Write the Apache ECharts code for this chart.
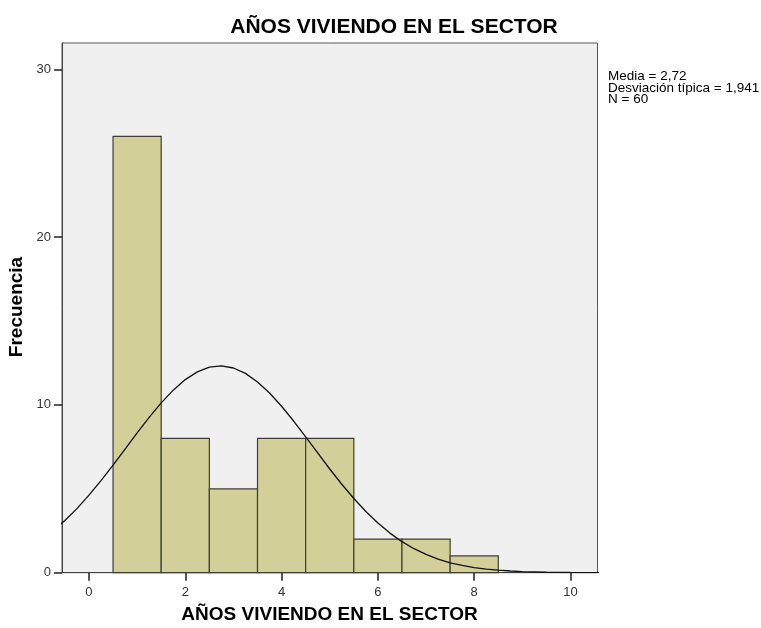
<!DOCTYPE html>
<html>
<head>
<meta charset="utf-8">
<script src="https://cdn.jsdelivr.net/npm/echarts@6/dist/echarts.min.js"></script>
<style>
html,body{margin:0;padding:0;background:#fff;}
#main{width:761px;height:628px;}
</style>
</head>
<body>
<div id="main"></div>
<script>
// Histogram bins: [lower, upper, frequency]
var binLower = [0.5, 1.5, 2.5, 3.5, 4.5, 5.5, 6.5, 7.5];
var binUpper = [1.5, 2.5, 3.5, 4.5, 5.5, 6.5, 7.5, 8.5];
var frequencies = [26, 8, 5, 8, 8, 2, 2, 1];
// Normal curve points: [x, frequency]
var curveX = [-1, -0.75, -0.5, -0.25, 0, 0.25, 0.5, 0.75, 1, 1.25, 1.5, 1.75, 2, 2.25, 2.5, 2.75, 3, 3.25, 3.5, 3.75, 4, 4.25, 4.5, 4.75, 5, 5.25, 5.5, 5.75, 6, 6.25, 6.5, 6.75, 7, 7.25, 7.5, 7.75, 8, 8.25, 8.5, 8.75, 9, 9.5, 10, 10.5, 11];
var curveY = [1.97, 2.49, 3.11, 3.82, 4.62, 5.49, 6.41, 7.37, 8.33, 9.26, 10.12, 10.88, 11.51, 11.97, 12.25, 12.33, 12.2, 11.88, 11.37, 10.71, 9.92, 9.04, 8.1, 7.14, 6.18, 5.27, 4.42, 3.65, 2.96, 2.36, 1.85, 1.43, 1.09, 0.81, 0.59, 0.43, 0.3, 0.21, 0.15, 0.1, 0.066, 0.028, 0.011, 0.003, 0.001];
var xTicks = [0, 2, 4, 6, 8, 10];
var yTicks = [0, 10, 20, 30];
var titleText = 'AÑOS VIVIENDO EN EL SECTOR';
var xName = 'AÑOS VIVIENDO EN EL SECTOR';
var yName = 'Frecuencia';
var statsLines = ['Media = 2,72', 'Desviación típica = 1,941', 'N = 60'];

var binData = binLower.map(function (l, i) { return [l, binUpper[i], frequencies[i]]; });
var curveData = curveX.map(function (x, i) { return [x, curveY[i]]; });

var chart = echarts.init(document.getElementById('main'), null, {renderer: 'canvas'});
var font = 'Liberation Sans, Arial, sans-serif';
chart.setOption({
  animation: false,
  backgroundColor: '#ffffff',
  grid: {left: 62, top: 43, width: 535.5, height: 529.7, show: true, backgroundColor: '#f0f0f0', borderColor: '#555555', borderWidth: 1},
  graphic: [
    {type: 'text', x: 394, y: 27, style: {text: titleText, fontFamily: font, fontSize: 21, fontWeight: 'bold', fill: '#000', align: 'center', verticalAlign: 'middle'}},
    {type: 'text', x: 608, y: 71, style: {text: statsLines.join('\n'), fontFamily: font, fontSize: 13.5, lineHeight: 11.5, fill: '#000'}},
    {type: 'text', x: 329.5, y: 615, style: {text: xName, fontFamily: font, fontSize: 19, fontWeight: 'bold', fill: '#000', align: 'center', verticalAlign: 'middle'}},
    {type: 'text', x: 17, y: 307, rotation: Math.PI / 2, style: {text: yName, fontFamily: font, fontSize: 19, fontWeight: 'bold', fill: '#000', align: 'center', verticalAlign: 'middle'}}
  ],
  xAxis: {
    type: 'value', min: -0.56, max: 10.56,
    splitLine: {show: false},
    axisLine: {show: true, onZero: false, lineStyle: {color: '#444', width: 1}},
    axisTick: {show: true, inside: false, length: 8, customValues: xTicks, lineStyle: {color: '#222', width: 1.5}},
    axisLabel: {customValues: xTicks, margin: 13, fontFamily: font, fontSize: 13, color: '#333'}
  },
  yAxis: {
    type: 'value', min: 0, max: 31.57,
    splitLine: {show: false},
    axisLine: {show: true, onZero: false, lineStyle: {color: '#444', width: 1}},
    axisTick: {show: true, inside: false, length: 8, customValues: yTicks, lineStyle: {color: '#222', width: 1.5}},
    axisLabel: {customValues: yTicks, margin: 11, fontFamily: font, fontSize: 13, color: '#333'}
  },
  series: [
    {
      type: 'custom',
      data: binData,
      encode: {x: [0, 1], y: 2},
      renderItem: function (params, api) {
        var p0 = api.coord([api.value(0), api.value(2)]);
        var p1 = api.coord([api.value(1), 0]);
        return {type: 'rect', shape: {x: p0[0], y: p0[1], width: p1[0] - p0[0], height: p1[1] - p0[1]},
          style: {fill: '#d3cf98', stroke: '#3f3f38', lineWidth: 1.2}};
      },
      z: 2
    },
    {
      type: 'line', data: curveData, smooth: false, showSymbol: false, symbol: 'none',
      lineStyle: {color: '#111', width: 1.3}, z: 3, clip: true
    }
  ]
});
</script>
</body>
</html>
